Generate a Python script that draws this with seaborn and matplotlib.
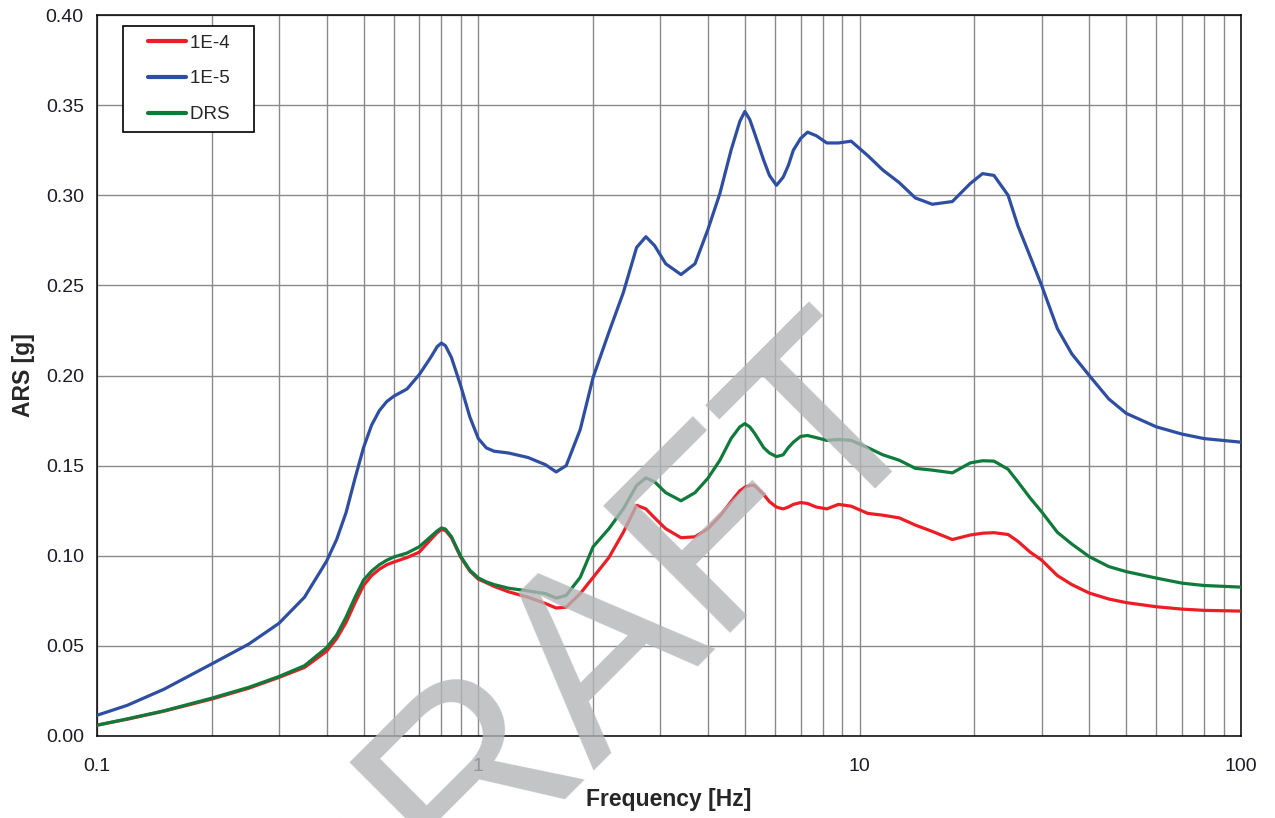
import matplotlib
matplotlib.use("Agg")
import matplotlib.pyplot as plt
import numpy as np
import pandas as pd
import seaborn as sns
from matplotlib.legend_handler import HandlerLine2D
from matplotlib.ticker import FixedLocator, FuncFormatter, LogLocator, NullFormatter

# frequencies [Hz]
freq = [0.1, 0.12, 0.15, 0.2, 0.25, 0.3, 0.35, 0.4, 0.425, 0.45, 0.475, 0.5, 0.525,
        0.55, 0.575, 0.6, 0.65, 0.7, 0.75, 0.78, 0.8, 0.82, 0.85, 0.9, 0.95, 1.0,
        1.05, 1.1, 1.2, 1.35, 1.5, 1.6, 1.7, 1.85, 2.0, 2.2, 2.4, 2.6, 2.75, 2.9,
        3.1, 3.4, 3.7, 4.0, 4.3, 4.6, 4.85, 5.0, 5.15, 5.3, 5.6, 5.8, 6.05, 6.3,
        6.5, 6.7, 7.0, 7.3, 7.7, 8.2, 8.8, 9.5, 10.5, 11.5, 12.7, 14.0, 15.5, 17.5,
        19.5, 21.0, 22.5, 24.5, 26, 28, 30, 33, 36, 40, 45, 50, 60, 70, 80, 100]

ars_1e4 = [0.006, 0.0093, 0.0138, 0.0205, 0.0265, 0.0325, 0.038, 0.047, 0.054, 0.063,
           0.074, 0.0835, 0.089, 0.0925, 0.095, 0.0965, 0.099, 0.102, 0.109, 0.1128,
           0.1145, 0.114, 0.110, 0.099, 0.0915, 0.087, 0.085, 0.083, 0.080, 0.077,
           0.0735, 0.071, 0.0715, 0.079, 0.088, 0.099, 0.113, 0.128, 0.126, 0.121,
           0.115, 0.110, 0.1105, 0.115, 0.122, 0.130, 0.136, 0.138, 0.139, 0.139,
           0.134, 0.130, 0.127, 0.126, 0.127, 0.1285, 0.1295, 0.129, 0.127, 0.126,
           0.1285, 0.1275, 0.1235, 0.1225, 0.121, 0.117, 0.1135, 0.109, 0.1115, 0.1125,
           0.1128, 0.1118, 0.108, 0.102, 0.0976, 0.089, 0.084, 0.0793, 0.076, 0.074,
           0.0717, 0.0704, 0.0697, 0.0693]

ars_1e5 = [0.0115, 0.017, 0.026, 0.040, 0.051, 0.0625, 0.077, 0.097, 0.109, 0.124,
           0.143, 0.160, 0.1725, 0.1805, 0.1855, 0.1885, 0.1925, 0.2005, 0.210, 0.216,
           0.218, 0.2165, 0.210, 0.194, 0.177, 0.165, 0.1598, 0.158, 0.157, 0.1545,
           0.1505, 0.1465, 0.150, 0.170, 0.199, 0.224, 0.246, 0.271, 0.277, 0.272,
           0.262, 0.256, 0.262, 0.281, 0.301, 0.325, 0.341, 0.3465, 0.342, 0.3345,
           0.3195, 0.311, 0.3055, 0.310, 0.3165, 0.325, 0.3315, 0.335, 0.333, 0.329,
           0.329, 0.330, 0.322, 0.314, 0.307, 0.2985, 0.295, 0.2965, 0.3065, 0.312,
           0.311, 0.300, 0.283, 0.266, 0.250, 0.226, 0.212, 0.200, 0.187, 0.179,
           0.1715, 0.1675, 0.165, 0.163]

ars_drs = [0.006, 0.0095, 0.014, 0.021, 0.027, 0.033, 0.039, 0.049, 0.056, 0.066,
           0.077, 0.0865, 0.0915, 0.095, 0.0975, 0.0993, 0.1015, 0.105, 0.1106, 0.1138,
           0.1154, 0.1148, 0.1106, 0.0995, 0.092, 0.0877, 0.0855, 0.084, 0.082, 0.0805,
           0.079, 0.0765, 0.078, 0.088, 0.105, 0.115, 0.126, 0.139, 0.1432, 0.141,
           0.135, 0.1305, 0.135, 0.143, 0.153, 0.165, 0.1715, 0.1733, 0.1715, 0.168,
           0.160, 0.157, 0.155, 0.156, 0.160, 0.163, 0.1662, 0.1667, 0.1655, 0.164,
           0.1645, 0.164, 0.160, 0.156, 0.153, 0.1485, 0.1475, 0.146, 0.1515, 0.1527,
           0.1525, 0.148, 0.141, 0.132, 0.1244, 0.113, 0.1065, 0.0995, 0.094, 0.0912,
           0.0876, 0.0848, 0.0835, 0.0826]

series = ["1E-4", "1E-5", "DRS"]
colors = ["#ee1d25", "#2e4ea3", "#0f7b3a"]
x_ticks = [0.1, 1, 10, 100]
y_ticks = [0.0, 0.05, 0.10, 0.15, 0.20, 0.25, 0.30, 0.35, 0.40]

df = pd.concat([
    pd.DataFrame({"Frequency": freq, "ARS": vals, "case": name})
    for name, vals in zip(series, [ars_1e4, ars_1e5, ars_drs])
])

sns.set_style("white")
plt.rcParams["font.family"] = ["Liberation Sans", "DejaVu Sans"]

fig = plt.figure(figsize=(12.75, 8.18), dpi=100)
ax = fig.add_axes([97 / 1275, 1 - 736 / 818, (1241 - 97) / 1275, (736 - 15) / 818])

sns.lineplot(data=df, x="Frequency", y="ARS", hue="case", hue_order=series,
             palette=colors, linewidth=2.3, ax=ax, zorder=3,
             solid_joinstyle="round", solid_capstyle="round")

ax.set_xscale("log")
ax.set_xlim(0.1, 100)
ax.set_ylim(0, 0.40)
ax.xaxis.set_major_locator(FixedLocator(x_ticks))
ax.xaxis.set_major_formatter(FuncFormatter(lambda v, p: "{:g}".format(v)))
ax.xaxis.set_minor_locator(LogLocator(base=10, subs=np.arange(2, 10)))
ax.xaxis.set_minor_formatter(NullFormatter())
ax.set_yticks(y_ticks)
ax.yaxis.set_major_formatter(FuncFormatter(lambda v, p: "{:.2f}".format(v)))

ax.grid(True, which="both", axis="x", color="#8a8a8a", linewidth=1.0, zorder=0)
ax.grid(True, which="major", axis="y", color="#8a8a8a", linewidth=1.0, zorder=0)
ax.set_axisbelow(True)

for s in ax.spines.values():
    s.set_color("black")
    s.set_linewidth(1.1)

ax.tick_params(axis="both", which="major", direction="out", length=4.5, width=1.0,
               labelsize=14, colors="black", labelcolor="#1c1c28")
ax.tick_params(axis="x", which="major", pad=11)
ax.tick_params(axis="y", which="major", pad=5)
ax.tick_params(axis="x", which="minor", length=0)

ax.set_xlabel("Frequency [Hz]", fontsize=16.5, fontweight="bold", labelpad=10)
ax.set_ylabel("ARS [g]", fontsize=16.5, fontweight="bold", labelpad=8)

handles, labels = ax.get_legend_handles_labels()
leg = ax.legend(handles, [lab + "   " for lab in labels], loc="upper left",
                bbox_to_anchor=((123 - 97) / 1144, 1 - (26 - 15) / 721),
                borderaxespad=0, fontsize=13.5, frameon=True, fancybox=False,
                edgecolor="black", framealpha=1, handlelength=2.9, handletextpad=0.2,
                borderpad=0.45, labelspacing=1.0,
                handler_map={h: HandlerLine2D(xpad=0.9) for h in handles})
leg.get_frame().set_linewidth(1.2)
for line in leg.get_lines():
    line.set_linewidth(3.0)

# DRAFT watermark over the plot
fig.text(0.4557, 0.1858, "DRAFT", fontsize=187, color="#b4b5b7", alpha=0.8,
         rotation=45, rotation_mode="anchor", ha="center", va="center", zorder=10)

fig.savefig("out.png", dpi=100)
